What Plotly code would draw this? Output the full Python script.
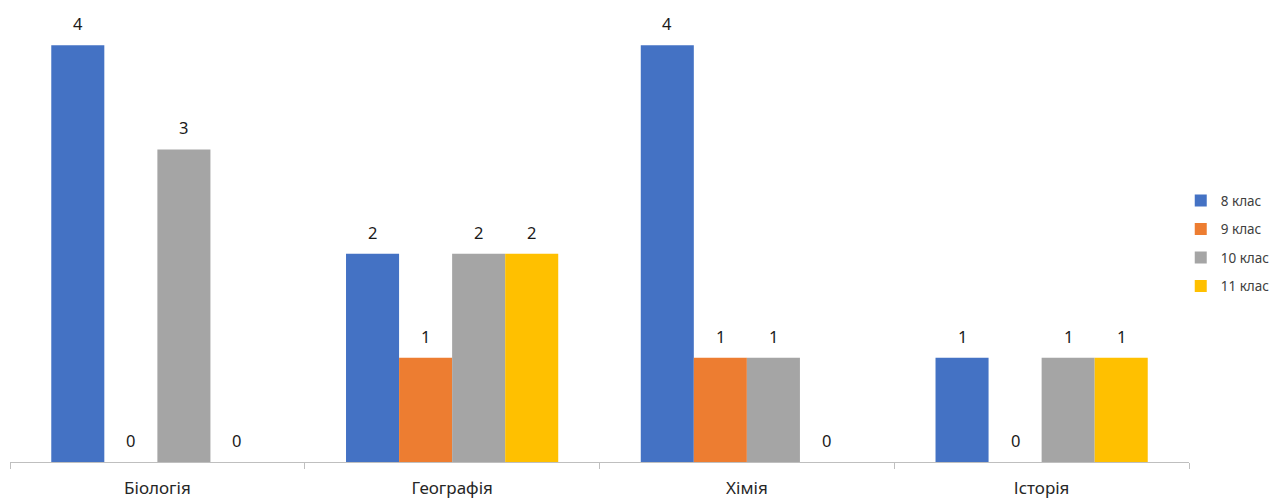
import plotly.graph_objects as go

# categories and series
subjects = ['Біологія', 'Географія', 'Хімія', 'Історія']
grade_8 = [4, 2, 4, 1]
grade_9 = [0, 1, 1, 0]
grade_10 = [3, 2, 1, 1]
grade_11 = [0, 2, 0, 1]

series = [
    ('8 клас', grade_8, '#4472C4'),
    ('9 клас', grade_9, '#ED7D31'),
    ('10 клас', grade_10, '#A5A5A5'),
    ('11 клас', grade_11, '#FFC000'),
]

bar_px = 53  # approximate bar width in pixels, used to place value labels

fig = go.Figure()
for i, (name, vals, color) in enumerate(series):
    fig.add_trace(go.Bar(
        x=subjects, y=vals, name=name,
        marker_color=color, marker_line_width=0,
        legendgroup=name,
    ))
    # value labels above each bar
    for s, v in zip(subjects, vals):
        fig.add_annotation(
            x=s, y=v, text=str(v), showarrow=False,
            xshift=(i - 1.5) * bar_px, yshift=8, yanchor='bottom',
            font=dict(size=16.5, color='#1a1a1a'),
        )

fig.update_layout(
    barmode='group',
    bargap=0.28,
    bargroupgap=0,
    width=1277, height=499,
    margin=dict(l=10, r=88, t=14, b=37, autoexpand=False),
    plot_bgcolor='white',
    paper_bgcolor='white',
    font=dict(family='Noto Sans, sans-serif', color='#262626'),
    legend=dict(
        x=0.993, xanchor='left', y=0.618, yanchor='top',
        font=dict(size=13.5, color='#404040'),
        tracegroupgap=8, itemwidth=30,
    ),
)

fig.update_xaxes(
    showline=True, linecolor='#bfbfbf', linewidth=1,
    ticks='outside', tickson='boundaries', ticklen=6, tickcolor='#bfbfbf',
    tickfont=dict(size=17, color='#262626'), ticklabelstandoff=11,
    showgrid=False,
)
fig.update_yaxes(
    range=[0, 4.3], visible=False, showgrid=False, zeroline=False,
)

# drop the default page margin so the figure fills the window
fig.write_html(
    "out.html",
    config={'displayModeBar': False},
    post_script="document.body.style.margin='0px';",
)
